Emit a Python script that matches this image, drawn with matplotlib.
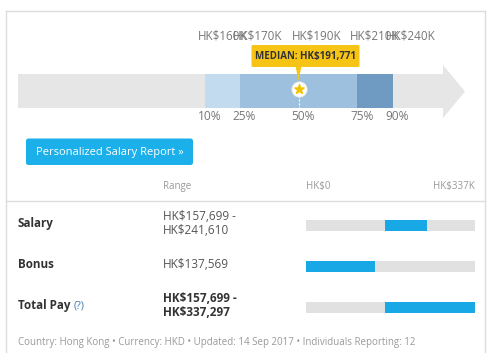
from __future__ import annotations

import matplotlib.pyplot as plt
from matplotlib.patches import FancyBboxPatch, Polygon, Rectangle

# percentile arrow
PCT = [10, 25, 50, 75, 90]
PCT_LABELS = ["10%", "25%", "50%", "75%", "90%"]
PCT_SALARY = ["HK$160K", "HK$170K", "HK$190K", "HK$210K", "HK$240K"]
SEG_COLORS = ["#c3dbef", "#9cc0de", "#9cc0de", "#6f9bc3"]
MEDIAN_PCT = 50
MEDIAN_LABEL = "MEDIAN: HK$191,771"

# pay table
ROWS = ["Salary", "Bonus", "Total Pay"]
LOW = [157699, 0, 157699]
HIGH = [241610, 137569, 337297]
RANGE_TEXT = [["HK$157,699 -", "HK$241,610"], ["HK$137,569"], ["HK$157,699 -", "HK$337,297"]]
SCALE_MAX = 337297
SCALE_LABELS = ["HK$0", "HK$337K"]
FOOTER = "Country: Hong Kong \u2022 Currency: HKD \u2022 Updated: 14 Sep 2017 \u2022 Individuals Reporting: 12"

W, H = 492, 353
plt.rcParams["font.family"] = ["Open Sans", "DejaVu Sans"]

fig = plt.figure(figsize=(W / 100, H / 100), dpi=100)
ax = fig.add_axes([0, 0, 1, 1])
ax.set_xlim(0, W)
ax.set_ylim(H, 0)
ax.axis("off")

# card border
border = "#dcdcdc"
ax.plot([6, 6], [11, H], color=border, lw=1)
ax.plot([485, 485], [11, H], color=border, lw=1)
ax.plot([6, 485], [11, 11], color=border, lw=1)

# ---- percentile arrow (x in percentile units, y in pixels) ----
x0, x1 = 18, 465
slope, mid = 2.35, 298.5
ax_a = fig.add_axes([x0 / W, (H - 118) / H, (x1 - x0) / W, 53 / H])
ax_a.set_xlim(50 + (x0 - mid) / slope, 50 + (x1 - mid) / slope)
ax_a.set_ylim(118, 65)
ax_a.axis("off")
lo_p, hi_p = ax_a.get_xlim()
neck = 50 + (443 - mid) / slope
ax_a.add_patch(Polygon([(lo_p, 74), (neck, 74), (neck, 65), (hi_p, 91.5),
                        (neck, 118), (neck, 108), (lo_p, 108)],
                       closed=True, color="#e6e6e6", lw=0, clip_on=False))
for i, c in enumerate(SEG_COLORS):
    ax_a.add_patch(Rectangle((PCT[i], 74), PCT[i + 1] - PCT[i], 34, color=c, lw=0))

for p, top, bot in zip(PCT, PCT_SALARY, PCT_LABELS):
    ax_a.annotate(top, (p, 36), xytext=(-7, 0), textcoords="offset pixels",
                  ha="left", va="center", fontsize=8.4, color="#777777",
                  annotation_clip=False)
    ax_a.annotate(bot, (p, 116), xytext=(-7, 0), textcoords="offset pixels",
                  ha="left", va="center", fontsize=8.6, color="#777777",
                  annotation_clip=False)

# median marker
ax_a.plot([MEDIAN_PCT, MEDIAN_PCT], [95, 108], color="white", lw=0.8, ls=(0, (2, 1.5)))
box_w = 108 / slope
ax_a.add_patch(FancyBboxPatch((MEDIAN_PCT - 47 / slope, 45), box_w, 22,
                              boxstyle="round,pad=0,rounding_size=1.5",
                              color="#f5c414", lw=0, clip_on=False,
                              mutation_aspect=1 / slope))
ax_a.add_patch(Polygon([(MEDIAN_PCT - 3 / slope, 66), (MEDIAN_PCT + 3 / slope, 66),
                        (MEDIAN_PCT, 81)], closed=True, color="#f5c414", lw=0,
                       clip_on=False))
ax_a.text(MEDIAN_PCT + 7 / slope, 56, MEDIAN_LABEL, ha="center", va="center",
          fontsize=7.0, fontweight="bold", color="#333333", clip_on=False)
ax_a.scatter([MEDIAN_PCT], [89], s=120, color="white", edgecolor="#e8e8e8",
             lw=0.6, zorder=5)
ax_a.scatter([MEDIAN_PCT], [89], s=50, marker="*", color="#f2c200", zorder=6)

# ---- button ----
ax.add_patch(FancyBboxPatch((26, 138.5), 167, 26.5,
                            boxstyle="round,pad=0,rounding_size=2.5",
                            color="#1bb0e9", lw=0))
ax.text(109.5, 152, "Personalized Salary Report \u00bb", ha="center", va="center",
        fontsize=8, color="white")

# ---- table ----
ax.text(163, 187, "Range", ha="left", va="center", fontsize=7, color="#999999")
ax.text(306, 187, SCALE_LABELS[0], ha="left", va="center", fontsize=7, color="#999999")
ax.text(475, 187, SCALE_LABELS[1], ha="right", va="center", fontsize=7, color="#999999")
ax.plot([6, 485], [201, 201], color=border, lw=1)

bar_l, bar_r = 306, 475
ax_b = fig.add_axes([bar_l / W, 0, (bar_r - bar_l) / W, 1])
ax_b.set_xlim(0, SCALE_MAX)
ax_b.set_ylim(H, 0)
ax_b.axis("off")
row_y = [225, 266, 307]
ax_b.barh(row_y, [SCALE_MAX] * 3, height=11, color="#e1e1e1")
ax_b.barh(row_y, [h - l for l, h in zip(LOW, HIGH)], left=LOW, height=11, color="#19a8e6")

for name, y, lines in zip(ROWS, row_y, RANGE_TEXT):
    ax.text(18, y - 1, name, ha="left", va="center", fontsize=8.4,
            fontweight="bold", color="#333333")
    bold = name == "Total Pay"
    kw = dict(ha="left", va="center", fontsize=8.5,
              color="#333333" if bold else "#555555",
              fontweight="bold" if bold else "normal")
    if len(lines) == 2:
        ax.text(163, y - 9, lines[0], **kw)
        ax.text(163, y + 6, lines[1], **kw)
    else:
        ax.text(163, y - 2, lines[0], **kw)
ax.text(74, row_y[2] - 1, "(?)", ha="left", va="center", fontsize=7.8, color="#4a7fb3")

ax.text(18, 342, FOOTER, ha="left", va="center", fontsize=7.0, color="#999999")

fig.savefig("out.png", dpi=100)
